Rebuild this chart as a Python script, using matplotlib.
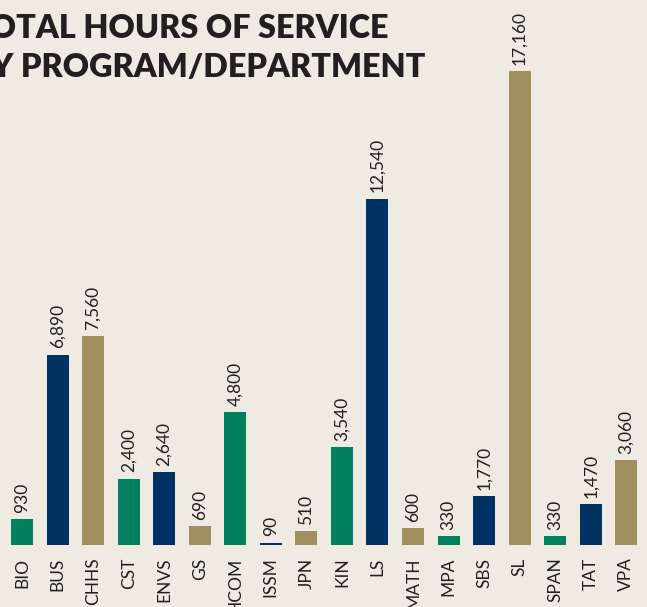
import matplotlib.pyplot as plt

programs = ["BIO", "BUS", "CHHS", "CST", "ENVS", "GS", "HCOM", "ISSM", "JPN",
            "KIN", "LS", "MATH", "MPA", "SBS", "SL", "SPAN", "TAT", "VPA"]
hours = [930, 6890, 7560, 2400, 2640, 690, 4800, 90, 510,
         3540, 12540, 600, 330, 1770, 17160, 330, 1470, 3060]

BG = "#efebe3"
INK = "#231f20"
PALETTE = ["#00805f", "#003263", "#a08e5e"]

fig = plt.figure(figsize=(6.47, 6.07), dpi=100, facecolor=BG)
ax = fig.add_axes([0, 0, 1, 1])
ax.set_facecolor(BG)

step_px = 35.55
x = list(range(len(programs)))
colors = [PALETTE[i % 3] for i in x]
ax.bar(x, hours, width=22 / step_px, color=colors)

ax.set_xlim(-22 / step_px, (647 - 22) / step_px)
px_per_unit = 474 / 17160
ax.set_ylim(-62 / px_per_unit, (607 - 62) / px_per_unit)
ax.axis("off")

for xi, v in zip(x, hours):
    ax.annotate(f"{v:,}", (xi, v), xytext=(0, 4.5), textcoords="offset points",
                rotation=90, ha="center", va="bottom", fontsize=12.5,
                family="Lato", color=INK)
for xi, name in zip(x, programs):
    ax.annotate(name, (xi, 0), xytext=(0, -9), textcoords="offset points",
                rotation=90, ha="center", va="top", fontsize=12.5,
                family="Lato", color=INK)

fig.text(-0.047, 0.937, "TOTAL HOURS OF SERVICE", fontsize=23.3, fontweight="heavy",
         family="Lato", color=INK, va="baseline")
fig.text(-0.047, 0.873, "BY PROGRAM/DEPARTMENT", fontsize=23.3, fontweight="heavy",
         family="Lato", color=INK, va="baseline")

fig.savefig("out.png", dpi=100, facecolor=BG)
